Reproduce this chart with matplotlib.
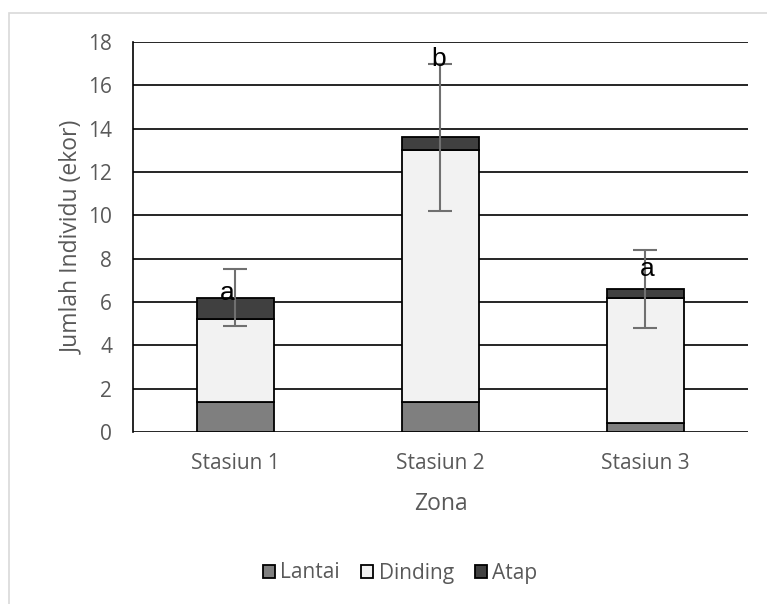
import matplotlib
matplotlib.use("Agg")
from matplotlib import pyplot as plt
from matplotlib.patches import Rectangle
import numpy as np

stations = ["Stasiun 1", "Stasiun 2", "Stasiun 3"]
lantai = [1.4, 1.4, 0.4]
dinding = [3.8, 11.6, 5.8]
atap = [1.0, 0.6, 0.4]
err = [1.3, 3.4, 1.8]
letters = ["a", "b", "a"]
letter_y = [6.1, 16.9, 7.2]
letter_dx = [-0.04, -0.01, 0.01]

plt.rcParams['font.family'] = ['Open Sans', 'DejaVu Sans']
text_col = "#595959"

fig = plt.figure(figsize=(7.67, 6.04), dpi=100)
ax = fig.add_axes([0.1734, 0.2848, 0.8018, 0.6457])

x = np.arange(len(stations))
w = 0.38
lantai = np.array(lantai)
dinding = np.array(dinding)
atap = np.array(atap)
total = lantai + dinding + atap

ax.bar(x, lantai, w, color="#7f7f7f", edgecolor="black", linewidth=1.3, label="Lantai", zorder=3)
ax.bar(x, dinding, w, bottom=lantai, color="#f2f2f2", edgecolor="black", linewidth=1.3, label="Dinding", zorder=3)
ax.bar(x, atap, w, bottom=lantai + dinding, color="#404040", edgecolor="black", linewidth=1.3, label="Atap", zorder=3)
ax.errorbar(x, total, yerr=err, fmt="none", ecolor="#707070", elinewidth=1.5, capsize=8.5, capthick=1.5, zorder=4)

for xi, lt, ly, dx in zip(x, letters, letter_y, letter_dx):
    ax.text(xi + dx, ly, lt, ha="center", va="baseline", fontsize=19, color="black",
            family=['Liberation Sans', 'DejaVu Sans'], zorder=5)

ax.set_xlim(-0.5, 2.5)
ax.set_ylim(0, 18)
ax.set_yticks(range(0, 19, 2))
ax.yaxis.grid(True, color="black", linewidth=1.2, zorder=0)
ax.set_axisbelow(True)
for s in ["top", "right", "bottom"]:
    ax.spines[s].set_visible(False)
ax.spines["left"].set_color("black")
ax.spines["left"].set_linewidth(1.2)
ax.tick_params(length=0, labelsize=15, labelcolor=text_col)
ax.tick_params(axis="y", pad=15)
ax.tick_params(axis="x", pad=15)
ax.set_xticks(x)
ax.set_xticklabels(stations)
ax.set_xlabel("Zona", fontsize=16.5, color=text_col, labelpad=13)
ax.set_ylabel("Jumlah Individu (ekor)", fontsize=16.5, color=text_col, labelpad=3)

fig.legend(loc="center", bbox_to_anchor=(400 / 767, 31 / 604), ncol=3, frameon=False,
           fontsize=15, labelcolor=text_col, handlelength=0.6, handleheight=0.6,
           handletextpad=0.25, columnspacing=1.0)

fig.patches.append(Rectangle((9 / 767, -0.01), 1.0, 1 - 13 / 604 + 0.01, transform=fig.transFigure,
                             fill=False, edgecolor="#d9d9d9", linewidth=1.2))

fig.savefig("out.png", dpi=100)
